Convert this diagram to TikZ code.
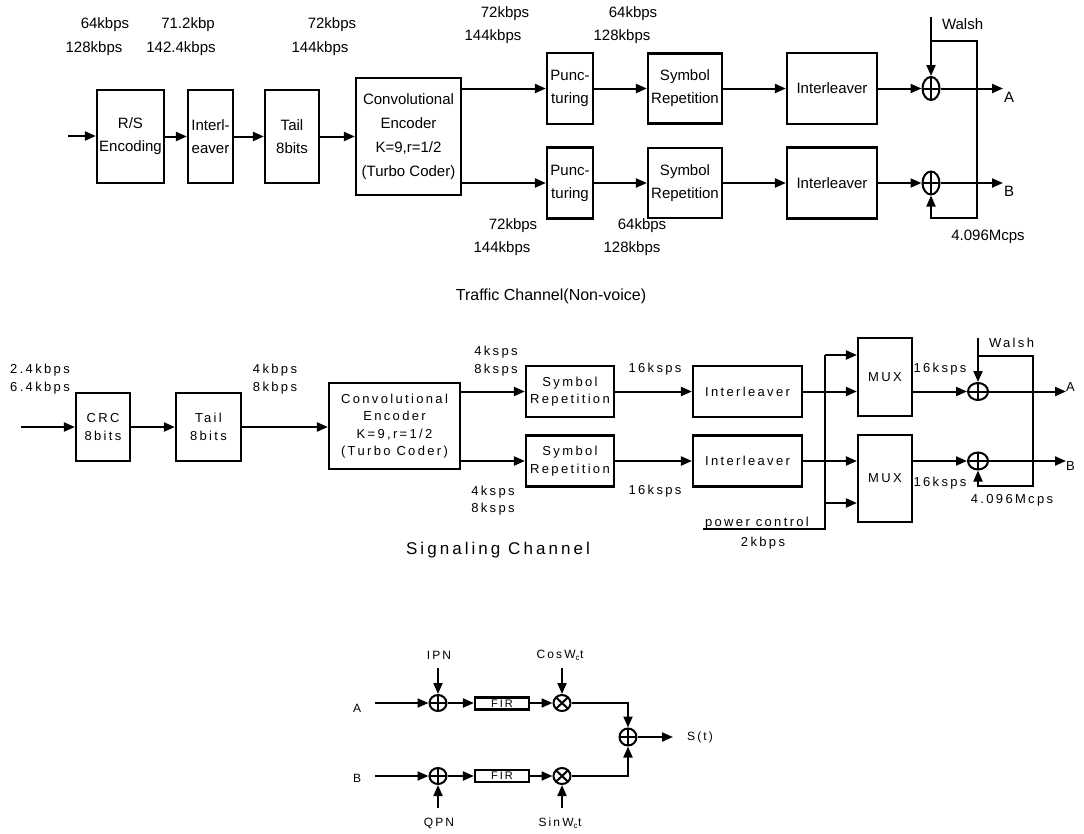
\documentclass[tikz,border=0pt]{standalone}
\usepackage{fontspec}
\setmainfont{Liberation Sans}
\newfontfamily\widefont[LetterSpace=18]{Liberation Sans}
\usetikzlibrary{arrows.meta,shapes.geometric}
\begin{document}
\begin{tikzpicture}[x=1pt,y=-1pt,line width=2pt,
  arr/.style={-{Triangle[length=11pt,width=9pt]}},
  tbox/.style={draw,line width=2.2pt,rectangle,inner sep=0pt,align=center,font=\fontsize{15}{23}\selectfont},
  mbox/.style={draw,line width=2.2pt,rectangle,inner sep=0pt,align=center,font=\widefont\fontsize{13}{17.5}\selectfont},
  tlbl/.style={inner sep=0pt,font=\fontsize{15}{18}\selectfont},
  mlbl/.style={inner sep=0pt,font=\widefont\fontsize{13}{16}\selectfont},
  blbl/.style={inner sep=0pt,font=\widefont\fontsize{12}{14}\selectfont},
  xorn/.style={draw,ellipse,inner sep=0pt,line width=2pt,
    path picture={\draw[line width=2pt] (path picture bounding box.north) -- (path picture bounding box.south)
      (path picture bounding box.west) -- (path picture bounding box.east);}},
  multn/.style={draw,ellipse,inner sep=0pt,line width=2pt,
    path picture={\draw[line width=2pt] (path picture bounding box.north west) -- (path picture bounding box.south east)
      (path picture bounding box.south west) -- (path picture bounding box.north east);}}
]
\useasboundingbox (0,0) rectangle (1084,833);

% ================= Traffic channel =================
\node[tlbl] (l1) at (105,25) {64kbps};
\node[tlbl] (l2) at (94,49) {128kbps};
\node[tlbl] (l3) at (188,25) {71.2kbp};
\node[tlbl] (l4) at (181,49) {142.4kbps};
\node[tlbl] (l5) at (332,25) {72kbps};
\node[tlbl] (l6) at (320,49) {144kbps};
\node[tlbl] (l7) at (505,14) {72kbps};
\node[tlbl] (l8) at (493,37) {144kbps};
\node[tlbl] (l9) at (633,14) {64kbps};
\node[tlbl] (l10) at (622,37) {128kbps};
\node[tlbl] (l11) at (513,226) {72kbps};
\node[tlbl] (l12) at (502,249) {144kbps};
\node[tlbl] (l13) at (642,226) {64kbps};
\node[tlbl] (l14) at (632,249) {128kbps};

\coordinate (in1) at (68,136);
\node[tbox,minimum width=67pt,minimum height=93pt] (rs) at (130.5,136.5) {R/S\\Encoding};
\node[tbox,minimum width=45pt,minimum height=93pt] (il1) at (210.5,136.5) {Interl-\\eaver};
\node[tbox,minimum width=54pt,minimum height=93pt] (tail1) at (292,136.5) {Tail\\8bits};
\node[tbox,minimum width=105pt,minimum height=117pt,font=\fontsize{15}{24}\selectfont] (conv1) at (408.5,136.5)
  {Convolutional\\Encoder\\K=9,r=1/2\\(Turbo Coder)};
\node[tbox,minimum width=46pt,minimum height=71pt] (p1a) at (570,88.5) {Punc-\\turing};
\node[tbox,minimum width=46pt,minimum height=71pt] (p1b) at (570,183) {Punc-\\turing};
\node[tbox,minimum width=74pt,minimum height=70pt] (s1a) at (685,88.5) {Symbol\\Repetition};
\node[tbox,minimum width=74pt,minimum height=70pt] (s1b) at (685,183) {Symbol\\Repetition};
\node[tbox,minimum width=90pt,minimum height=71pt] (i1a) at (832,88.5) {Interleaver};
\node[tbox,minimum width=90pt,minimum height=71pt] (i1b) at (832,183) {Interleaver};
\node[xorn,minimum width=17pt,minimum height=23pt] (x1a) at (931,88.5) {};
\node[xorn,minimum width=17pt,minimum height=23pt] (x1b) at (931,183) {};

\draw[arr] (in1) -- (rs.west |- in1);
\draw[arr] (rs.east) -- (il1.west);
\draw[arr] (il1.east) -- (tail1.west);
\draw[arr] (tail1.east) -- (conv1.west);
\draw[arr] (conv1.east |- p1a.west) -- (p1a.west);
\draw[arr] (conv1.east |- p1b.west) -- (p1b.west);
\draw[arr] (p1a.east) -- (s1a.west);
\draw[arr] (p1b.east) -- (s1b.west);
\draw[arr] (s1a.east) -- (i1a.west);
\draw[arr] (s1b.east) -- (i1b.west);
\draw[arr] (i1a.east) -- (x1a.west);
\draw[arr] (i1b.east) -- (x1b.west);

\coordinate (w1) at (931,17);
\coordinate (wj1) at (931,41);
\coordinate (wr1) at (977,218);
\draw[arr] (w1) -- (x1a.north);
\draw[arr] (wj1) -| (wr1) -| (x1b.south);
\node[tlbl,anchor=west] (walsh1) at (941,24) {Walsh};
\coordinate (oA1) at (1003,88.5);
\coordinate (oB1) at (1003,183);
\draw[arr] (x1a.east) -- (oA1);
\draw[arr] (x1b.east) -- (oB1);
\node[tlbl,anchor=west] (A1) at (1003,97) {A};
\node[tlbl,anchor=west] (B1) at (1003,191) {B};
\node[tlbl] (mc1) at (988,237) {4.096Mcps};

\node[inner sep=0pt,font=\fontsize{16}{18}\selectfont] (title1) at (551,296) {Traffic Channel(Non-voice)};

% ================= Signaling channel =================
\node[mlbl] (m1) at (40,370) {2.4kbps};
\node[mlbl] (m2) at (40,388) {6.4kbps};
\node[mlbl] (m3) at (275,370) {4kbps};
\node[mlbl] (m4) at (275,388) {8kbps};
\node[mlbl] (m5) at (496,352) {4ksps};
\node[mlbl] (m6) at (496,370) {8ksps};
\node[mlbl] (m7) at (493,492) {4ksps};
\node[mlbl] (m8) at (493,509) {8ksps};
\node[mlbl] (m9) at (655,369) {16ksps};
\node[mlbl] (m10) at (655,491) {16ksps};

\coordinate (in2) at (21,427);
\node[mbox,minimum width=54pt,minimum height=68pt] (crc) at (103,427) {CRC\\8bits};
\node[mbox,minimum width=65pt,minimum height=68pt] (tail2) at (208.5,427) {Tail\\8bits};
\node[mbox,minimum width=131pt,minimum height=86pt] (conv2) at (394.5,426)
  {Convolutional\\Encoder\\K=9,r=1/2\\(Turbo Coder)};
\node[mbox,minimum width=88pt,minimum height=51pt] (s2a) at (570,391.5) {Symbol\\Repetition};
\node[mbox,minimum width=88pt,minimum height=51pt] (s2b) at (570,461) {Symbol\\Repetition};
\node[mbox,minimum width=109pt,minimum height=51pt] (i2a) at (747.5,391.5) {Interleaver};
\node[mbox,minimum width=109pt,minimum height=51pt] (i2b) at (747.5,461) {Interleaver};
\node[mbox,minimum width=54pt,minimum height=78pt] (mx2a) at (885,377) {MUX};
\node[mbox,minimum width=54pt,minimum height=87pt] (mx2b) at (885,478.5) {MUX};
\node[xorn,minimum width=20pt,minimum height=17pt] (x2a) at (978,391.5) {};
\node[xorn,minimum width=20pt,minimum height=17pt] (x2b) at (978,461) {};

\draw[arr] (in2) -- (crc.west |- in2);
\draw[arr] (crc.east) -- (tail2.west);
\draw[arr] (tail2.east) -- (conv2.west |- tail2.east);
\draw[arr] (conv2.east |- s2a.west) -- (s2a.west);
\draw[arr] (conv2.east |- s2b.west) -- (s2b.west);
\draw[arr] (s2a.east) -- (i2a.west);
\draw[arr] (s2b.east) -- (i2b.west);
\draw[arr] (i2a.east) -- (i2a.east -| mx2a.west);
\draw[arr] (i2b.east) -- (i2b.east -| mx2b.west);

\coordinate (pc) at (703,529);
\coordinate (bb) at (825,529);
\coordinate (bt) at (825,355);
\coordinate (b3) at (825,503);
\draw (pc) -- (bb) -- (bt);
\draw[arr] (bt) -- (bt -| mx2a.west);
\draw[arr] (b3) -- (b3 -| mx2b.west);
\node[mlbl,anchor=south] (pcl) at (757,530) {power control};
\node[mlbl] (pck) at (763,543) {2kbps};

\draw[arr] (mx2a.east |- x2a) -- (x2a.west);
\draw[arr] (mx2b.east |- x2b) -- (x2b.west);
\node[mlbl] (m11) at (940,369) {16ksps};
\node[mlbl] (m12) at (940,483) {16ksps};

\coordinate (w2) at (978,338);
\coordinate (wj2) at (978,356);
\coordinate (wr2) at (1033,486);
\draw[arr] (w2) -- (x2a.north);
\draw[arr] (wj2) -| (wr2) -| (x2b.south);
\node[mlbl,anchor=west] (walsh2) at (988,343) {Walsh};
\coordinate (oA2) at (1066,391.5);
\coordinate (oB2) at (1066,461);
\draw[arr] (x2a.east) -- (oA2);
\draw[arr] (x2b.east) -- (oB2);
\node[mlbl,anchor=west] (A2) at (1065,387) {A};
\node[mlbl,anchor=west] (B2) at (1065,466) {B};
\node[mlbl] (mc2) at (1012,500) {4.096Mcps};

\node[inner sep=0pt,font=\widefont\fontsize{17}{20}\selectfont] (title2) at (498,550) {Signaling Channel};

% ================= Modulator =================
\node[blbl] (tA) at (357,708) {A};
\node[blbl] (tB) at (357,778) {B};
\coordinate (inA) at (375,703);
\coordinate (inB) at (375,776);
\node[xorn,minimum width=17pt,minimum height=16pt] (x3a) at (438,703) {};
\node[xorn,minimum width=17pt,minimum height=16pt] (x3b) at (438,776) {};
\node[draw,line width=2.2pt,inner sep=0pt,minimum width=54pt,minimum height=12pt,font=\widefont\fontsize{11}{11}\selectfont] (f3a) at (502,703.5) {FIR};
\node[draw,line width=2.2pt,inner sep=0pt,minimum width=54pt,minimum height=12pt,font=\widefont\fontsize{11}{11}\selectfont] (f3b) at (502,776) {FIR};
\node[multn,minimum width=17pt,minimum height=16pt] (mu3a) at (562,703) {};
\node[multn,minimum width=17pt,minimum height=16pt] (mu3b) at (562,776) {};
\node[xorn,minimum width=17pt,minimum height=17pt] (sum) at (628,737) {};

\draw[arr] (inA) -- (x3a.west);
\draw[arr] (inB) -- (x3b.west);
\draw[arr] (x3a.east) -- (f3a.west |- x3a);
\draw[arr] (x3b.east) -- (f3b.west |- x3b);
\draw[arr] (f3a.east |- mu3a) -- (mu3a.west);
\draw[arr] (f3b.east |- mu3b) -- (mu3b.west);
\draw[arr] (mu3a.east) -| (sum.north);
\draw[arr] (mu3b.east) -| (sum.south);
\coordinate (out3) at (673,737);
\draw[arr] (sum.east) -- (out3);
\node[blbl] (st) at (700,737) {S(t)};

\node[blbl] (ipn) at (439,655) {IPN};
\node[blbl] (cos) at (560,655) {CosW\textsubscript{c}t};
\node[blbl] (qpn) at (439,823) {QPN};
\node[blbl] (sin) at (560,823) {SinW\textsubscript{c}t};
\coordinate (ipnA) at (438,668);
\coordinate (cosA) at (562,668);
\coordinate (qpnA) at (438,808);
\coordinate (sinA) at (562,808);
\draw[arr] (ipnA) -- (x3a.north);
\draw[arr] (cosA) -- (mu3a.north);
\draw[arr] (qpnA) -- (x3b.south);
\draw[arr] (sinA) -- (mu3b.south);
\end{tikzpicture}
\end{document}
